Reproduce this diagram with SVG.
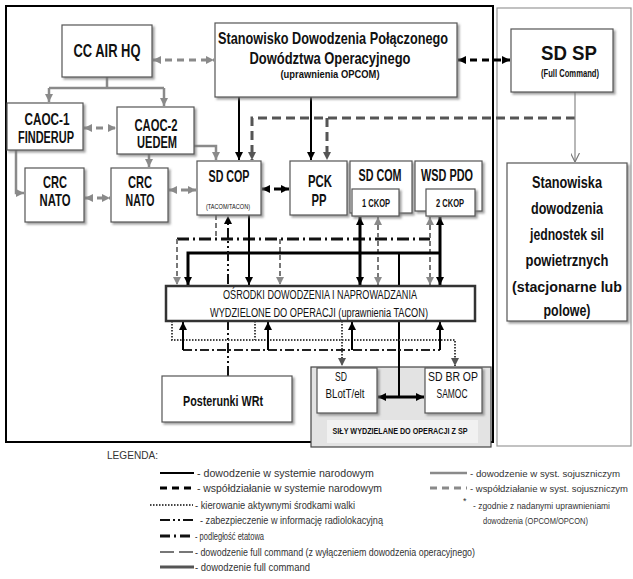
<svg xmlns="http://www.w3.org/2000/svg" width="633" height="579" viewBox="0 0 633 579">
<style>
text{font-family:"Liberation Sans",Arial,sans-serif;fill:#111}
.b{font-weight:bold}
.n{font-weight:normal}
.box{fill:#fff;stroke:#555;stroke-width:1.2}
.sh{filter:url(#ds)}
.lg{fill:#333;font-size:11px}
.lr{fill:#333;font-size:9px}
.gs{fill:none;stroke:#8a8a8a;stroke-width:2.5}
.gd{fill:none;stroke:#8a8a8a;stroke-width:3;stroke-dasharray:7 5}
.kd{fill:none;stroke:#000;stroke-width:3;stroke-dasharray:7 5}
.ks{fill:none;stroke:#000;stroke-width:2}
.kt{fill:none;stroke:#000;stroke-width:3}
.fc{fill:none;stroke:#555;stroke-width:3;stroke-dasharray:9 5}
.dot{fill:none;stroke:#444;stroke-width:2;stroke-dasharray:1.5 1.5}
.dd{fill:none;stroke:#111;stroke-width:2;stroke-dasharray:10 3 2 3 2 3}
.de{fill:none;stroke:#111;stroke-width:3;stroke-dasharray:12 4 2 4}
.d1{fill:none;stroke:#222;stroke-width:1.8;stroke-dasharray:9 3 2 3}
.gx{fill:none;stroke:#777;stroke-width:2;stroke-dasharray:5 3}
</style>
<defs>
<filter id="ds" x="-10%" y="-10%" width="130%" height="130%"><feDropShadow dx="2" dy="2" stdDeviation="1" flood-color="#777" flood-opacity="0.7"/></filter>
<marker id="ak" viewBox="0 0 10 10" refX="10" refY="5" markerWidth="8" markerHeight="8" markerUnits="userSpaceOnUse" orient="auto-start-reverse"><path d="M0,0 L10,5 L0,10 z" fill="#000"/></marker>
<marker id="ag" viewBox="0 0 10 10" refX="10" refY="5" markerWidth="8" markerHeight="8" markerUnits="userSpaceOnUse" orient="auto-start-reverse"><path d="M0,0 L10,5 L0,10 z" fill="#8a8a8a"/></marker>
<marker id="ad" viewBox="0 0 10 10" refX="10" refY="5" markerWidth="8" markerHeight="8" markerUnits="userSpaceOnUse" orient="auto-start-reverse"><path d="M0,0 L10,5 L0,10 z" fill="#555"/></marker>
<marker id="av" viewBox="0 0 10 10" refX="10" refY="5" markerWidth="9" markerHeight="9" markerUnits="userSpaceOnUse" orient="auto"><path d="M0,0 L10,5 L0,10" fill="none" stroke="#777" stroke-width="1.3"/></marker>
</defs>
<rect width="633" height="579" fill="#fff"/>
<g id="frame">
<rect x="497" y="8" width="134" height="438" fill="#fff" stroke="#999" stroke-width="1.2"/>
<rect x="6" y="6" width="487" height="436" fill="none" stroke="#000" stroke-width="2"/>
</g>
<g id="sily">
<rect x="311" y="367" width="180" height="80" fill="#e3e3e3" stroke="#444" stroke-width="1.2"/>
<rect x="327" y="420" width="151" height="23" fill="#f1f1f1"/>
<text class="b" x="400" y="434" font-size="9" text-anchor="middle" textLength="135" lengthAdjust="spacingAndGlyphs">SIŁY WYDZIELANE DO OPERACJI Z SP</text>
</g>
<g id="connectors">
<path class="gs" d="M107,77 V88 M49,88 H164"/>
<path class="gs" d="M49,88 V102" marker-end="url(#ag)"/>
<path class="gs" d="M164,88 V106" marker-end="url(#ag)"/>
<path class="gs" d="M16,150 V193 H24" marker-end="url(#ag)"/>
<path class="gs" d="M149,154 V167" marker-end="url(#ag)"/>
<path class="gs" d="M194,146 H216 V160" marker-end="url(#ag)"/>
<path class="gd" d="M153,60 H214" marker-start="url(#ag)" marker-end="url(#ag)"/>
<path class="gd" d="M84,128 H116" marker-start="url(#ag)" marker-end="url(#ag)"/>
<path class="gd" d="M85,198 H110" marker-start="url(#ag)" marker-end="url(#ag)"/>
<path class="gd" d="M169,190 H196" marker-start="url(#ag)" marker-end="url(#ag)"/>
<path class="kd" d="M458,60 H510" marker-start="url(#ak)" marker-end="url(#ak)"/>
<path class="kd" d="M262,189 H289" marker-start="url(#ak)" marker-end="url(#ak)"/>
<path class="ks" d="M239,97 V160" marker-end="url(#ak)"/>
<path class="ks" d="M311,97 V160" marker-end="url(#ak)"/>
<path class="fc" d="M575,118 H252 V160" marker-end="url(#ad)"/>
<path class="fc" d="M327,118 V160" marker-end="url(#ad)"/>
<path fill="none" stroke="#888" stroke-width="1.2" d="M575,92 V162" marker-end="url(#av)"/>
<path class="de" d="M177,239 H430"/>
<path class="gx" d="M177,239 V285" marker-end="url(#ag)"/>
<path class="gx" d="M280,239 V285" marker-end="url(#ag)"/>
<path class="gx" d="M216,215 V239"/>
<path class="gx" d="M378,217 V285" marker-start="url(#ag)" marker-end="url(#ag)"/>
<path class="gx" d="M430,217 V285" marker-start="url(#ag)" marker-end="url(#ag)"/>
<path class="kt" d="M440,253 H188 V285" marker-end="url(#ak)"/>
<path class="ks" d="M249,215 V285" marker-end="url(#ak)"/>
<path class="kt" d="M360,217 V285" marker-start="url(#ak)" marker-end="url(#ak)"/>
<path class="kt" d="M440,217 V285" marker-start="url(#ak)" marker-end="url(#ak)"/>
<path class="ks" d="M399,253 V397"/>
<path class="kt" d="M378,397 H424" marker-start="url(#ak)" marker-end="url(#ak)"/>
<path class="dd" d="M228,376 V216" marker-end="url(#ak)"/>
<path class="dot" d="M172,321 V340 H455 V366" marker-end="url(#ad)"/>
<path class="dot" d="M255,321 V340"/>
<path class="dot" d="M342,321 V366" marker-end="url(#ad)"/>
<path class="d1" d="M183,350 H440"/>
<path class="ks" stroke-width="1.5" d="M183,350 V322" marker-end="url(#ak)"/>
<path class="ks" stroke-width="1.5" d="M268,350 V322" marker-end="url(#ak)"/>
<path class="ks" stroke-width="1.5" d="M352,350 V322" marker-end="url(#ak)"/>
<path class="ks" stroke-width="1.5" d="M440,350 V322" marker-end="url(#ak)"/>
</g>
<g id="ccairhq">
<rect class="box sh" x="62" y="25" width="90" height="52"/>
<text class="b" x="107" y="57" font-size="18" text-anchor="middle" textLength="67" lengthAdjust="spacingAndGlyphs">CC AIR HQ</text>
</g>
<g id="stanowisko-pdo">
<rect class="box sh" x="215" y="23" width="242" height="74"/>
<text class="b" x="333" y="44" font-size="17" text-anchor="middle" textLength="230" lengthAdjust="spacingAndGlyphs">Stanowisko Dowodzenia Połączonego</text>
<text class="b" x="330" y="64" font-size="17" text-anchor="middle" textLength="161" lengthAdjust="spacingAndGlyphs">Dowództwa Operacyjnego</text>
<text class="b" x="330" y="78" font-size="10" text-anchor="middle" textLength="99" lengthAdjust="spacingAndGlyphs">(uprawnienia  OPCOM)</text>
</g>
<g id="sdsp">
<rect class="box sh" x="511" y="29" width="102" height="63"/>
<text class="b" x="569" y="60" font-size="20" text-anchor="middle" textLength="56" lengthAdjust="spacingAndGlyphs">SD SP</text>
<text class="b" x="570" y="77" font-size="10" text-anchor="middle" textLength="58" lengthAdjust="spacingAndGlyphs">(Full Command)</text>
</g>
<g id="stanowiska-jsp">
<rect class="box sh" x="507" y="163" width="120" height="158"/>
<text class="b" x="567" y="188" font-size="17" text-anchor="middle" textLength="70" lengthAdjust="spacingAndGlyphs">Stanowiska</text>
<text class="b" x="567" y="214" font-size="17" text-anchor="middle" textLength="72" lengthAdjust="spacingAndGlyphs">dowodzenia</text>
<text class="b" x="567" y="240" font-size="17" text-anchor="middle" textLength="74" lengthAdjust="spacingAndGlyphs">jednostek sil</text>
<text class="b" x="567" y="266" font-size="16" text-anchor="middle" textLength="83" lengthAdjust="spacingAndGlyphs">powietrznych</text>
<text class="b" x="567" y="292" font-size="15" text-anchor="middle" textLength="110" lengthAdjust="spacingAndGlyphs">(stacjonarne lub</text>
<text class="b" x="567" y="316" font-size="17" text-anchor="middle" textLength="47" lengthAdjust="spacingAndGlyphs">polowe)</text>
</g>
<g id="caoc1">
<rect class="box sh" x="7" y="103" width="76" height="47"/>
<text class="b" x="47" y="125" font-size="16" text-anchor="middle" textLength="45" lengthAdjust="spacingAndGlyphs">CAOC-1</text>
<text class="b" x="46" y="143" font-size="16" text-anchor="middle" textLength="56" lengthAdjust="spacingAndGlyphs">FINDERUP</text>
</g>
<g id="caoc2">
<rect class="box sh" x="117" y="107" width="77" height="47"/>
<text class="b" x="156" y="131" font-size="16" text-anchor="middle" textLength="43" lengthAdjust="spacingAndGlyphs">CAOC-2</text>
<text class="b" x="157" y="148" font-size="16" text-anchor="middle" textLength="40" lengthAdjust="spacingAndGlyphs">UEDEM</text>
</g>
<g id="crc1">
<rect class="box sh" x="25" y="168" width="59" height="54"/>
<text class="b" x="55" y="188" font-size="17" text-anchor="middle" textLength="24" lengthAdjust="spacingAndGlyphs">CRC</text>
<text class="b" x="55" y="206" font-size="17" text-anchor="middle" textLength="31" lengthAdjust="spacingAndGlyphs">NATO</text>
</g>
<g id="crc2">
<rect class="box sh" x="111" y="168" width="57" height="54"/>
<text class="b" x="140" y="188" font-size="17" text-anchor="middle" textLength="24" lengthAdjust="spacingAndGlyphs">CRC</text>
<text class="b" x="140" y="206" font-size="17" text-anchor="middle" textLength="29" lengthAdjust="spacingAndGlyphs">NATO</text>
</g>
<g id="sdcop">
<rect class="box sh" x="197" y="161" width="64" height="54"/>
<text class="b" x="229" y="182" font-size="16" text-anchor="middle" textLength="41" lengthAdjust="spacingAndGlyphs">SD COP</text>
<text class="n" x="228" y="209" font-size="7" text-anchor="middle" textLength="44" lengthAdjust="spacingAndGlyphs">(TACOM/TACON)</text>
</g>
<g id="pckpp">
<rect class="box sh" x="290" y="161" width="57" height="54"/>
<text class="b" x="320" y="187" font-size="17" text-anchor="middle" textLength="24" lengthAdjust="spacingAndGlyphs">PCK</text>
<text class="b" x="319" y="206" font-size="17" text-anchor="middle" textLength="15" lengthAdjust="spacingAndGlyphs">PP</text>
</g>
<g id="sdcom">
<rect class="box sh" x="350" y="161" width="62" height="52"/>
<text class="b" x="380" y="181" font-size="16" text-anchor="middle" textLength="43" lengthAdjust="spacingAndGlyphs">SD COM</text>
<rect class="box sh" x="352" y="189" width="47" height="27"/>
<text class="b" x="376" y="207" font-size="10" text-anchor="middle" textLength="28" lengthAdjust="spacingAndGlyphs">1 CKOP</text>
</g>
<g id="wsdpdo">
<rect class="box sh" x="415" y="161" width="67" height="50"/>
<text class="b" x="447" y="181" font-size="16" text-anchor="middle" textLength="52" lengthAdjust="spacingAndGlyphs">WSD PDO</text>
<rect class="box sh" x="426" y="189" width="49" height="27"/>
<text class="b" x="450" y="207" font-size="10" text-anchor="middle" textLength="28" lengthAdjust="spacingAndGlyphs">2 CKOP</text>
</g>
<g id="osrodki">
<rect x="166" y="286" width="309" height="35" fill="#fff" stroke="#333" stroke-width="2.5"/>
<text class="n" x="320" y="299" font-size="12" text-anchor="middle" textLength="194" lengthAdjust="spacingAndGlyphs">OŚRODKI DOWODZENIA I NAPROWADZANIA</text>
<text class="n" x="319" y="317" font-size="12" text-anchor="middle" textLength="218" lengthAdjust="spacingAndGlyphs">WYDZIELONE DO OPERACJI (uprawnienia TACON)</text>
</g>
<g id="posterunki">
<rect class="box sh" x="162" y="376" width="130" height="46"/>
<text class="b" x="223" y="406" font-size="15" text-anchor="middle" textLength="80" lengthAdjust="spacingAndGlyphs">Posterunki WRt</text>
</g>
<g id="sdblot">
<rect class="box sh" x="317" y="368" width="60" height="45"/>
<text class="n" x="341" y="381" font-size="12" text-anchor="middle" textLength="12" lengthAdjust="spacingAndGlyphs">SD</text>
<text class="n" x="345" y="398" font-size="12" text-anchor="middle" textLength="39" lengthAdjust="spacingAndGlyphs">BLotT/elt</text>
</g>
<g id="sdbrop">
<rect class="box sh" x="425" y="368" width="57" height="45"/>
<text class="n" x="453" y="381" font-size="12" text-anchor="middle" textLength="50" lengthAdjust="spacingAndGlyphs">SD BR OP</text>
<text class="n" x="452" y="398" font-size="12" text-anchor="middle" textLength="31" lengthAdjust="spacingAndGlyphs">SAMOC</text>
</g>
<g id="legend">
<text class="lg" x="107" y="459" font-size="12" textLength="51" lengthAdjust="spacingAndGlyphs">LEGENDA:</text>
<path d="M160,473 H194" stroke="#000" stroke-width="2"/>
<path d="M160,488 H194" stroke="#000" stroke-width="3" stroke-dasharray="7 5"/>
<path d="M150,505 H193" stroke="#444" stroke-width="2" stroke-dasharray="1.5 1.5"/>
<path d="M160,520 H193" stroke="#111" stroke-width="2" stroke-dasharray="10 3 2 3 2 3"/>
<path d="M160,536 H193" stroke="#111" stroke-width="3" stroke-dasharray="10 4 2 4"/>
<path d="M160,552 H193" stroke="#777" stroke-width="2" stroke-dasharray="14 5"/>
<path d="M160,567 H194" stroke="#555" stroke-width="3"/>
<text class="lg" x="197" y="477" textLength="177" lengthAdjust="spacingAndGlyphs">- dowodzenie  w systemie narodowym</text>
<text class="lg" x="197" y="492" textLength="185" lengthAdjust="spacingAndGlyphs">- współdziałanie  w systemie narodowym</text>
<text class="lg" x="195" y="509" textLength="160" lengthAdjust="spacingAndGlyphs">- kierowanie aktywnymi środkami walki</text>
<text class="lg" x="200" y="524" textLength="183" lengthAdjust="spacingAndGlyphs">- zabezpieczenie w informację radiolokacyjną</text>
<text class="lg" x="195" y="540" textLength="69" lengthAdjust="spacingAndGlyphs">- podległość etatowa</text>
<text class="lg" x="195" y="556" textLength="280" lengthAdjust="spacingAndGlyphs">- dowodzenie full command (z wyłączeniem dowodzenia operacyjnego)</text>
<text class="lg" x="195" y="571" textLength="115" lengthAdjust="spacingAndGlyphs">- dowodzenie full command</text>
<path d="M430,473 H467" stroke="#8a8a8a" stroke-width="2.5"/>
<path d="M430,488 H467" stroke="#8a8a8a" stroke-width="3" stroke-dasharray="7 5"/>
<text class="lr" x="470" y="477" textLength="150" lengthAdjust="spacingAndGlyphs">-  dowodzenie  w syst. sojuszniczym</text>
<text class="lr" x="470" y="492" textLength="158" lengthAdjust="spacingAndGlyphs">- współdziałanie  w syst. sojuszniczym</text>
<text class="lr" x="463" y="504">*</text>
<text class="lr" x="473" y="509" textLength="137" lengthAdjust="spacingAndGlyphs">- zgodnie z nadanymi uprawnieniami</text>
<text class="lr" x="483" y="524" textLength="105" lengthAdjust="spacingAndGlyphs">dowodzenia (OPCOM/OPCON)</text>
</g>
</svg>
